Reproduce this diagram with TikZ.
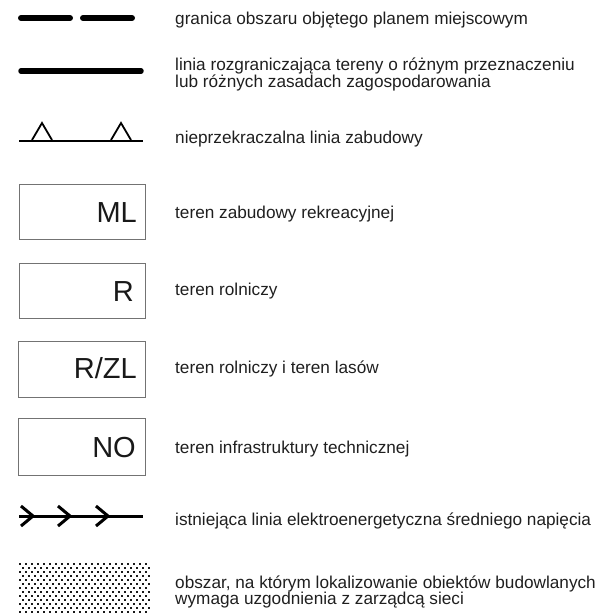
\documentclass[tikz,border=0pt]{standalone}
\usepackage{fontspec}
\setmainfont{Liberation Sans}
\begin{document}
\begin{tikzpicture}[x=1pt,y=-1pt,
  lbl/.style={anchor=base west,inner sep=0pt,font=\fontsize{17.2}{19}\selectfont,text=black!88},
  code/.style={anchor=base east,inner sep=0pt,font=\fontsize{29}{32}\selectfont,text=black!90},
  keybox/.style={draw=black!55,line width=1pt},
  thickline/.style={line width=6pt,line cap=round},
  dot/.style={fill=black!90}]
\useasboundingbox (0,0) rectangle (601,614);
% 1 dashed boundary
\coordinate (d1a) at (21,18); \coordinate (d1b) at (70,18);
\coordinate (d2a) at (83,18); \coordinate (d2b) at (132,18);
\draw[thickline] (d1a) -- (d1b);
\draw[thickline] (d2a) -- (d2b);
\node[lbl] (t1) at (175,24) {granica obszaru objętego planem miejscowym};
% 2 solid line
\coordinate (s1) at (21,71); \coordinate (s2) at (141,71);
\draw[thickline,line width=5.5pt] (s1) -- (s2);
\node[lbl] (t2a) at (175,70) {linia rozgraniczająca tereny o różnym przeznaczeniu};
\node[lbl] (t2b) at (175,87) {lub różnych zasadach zagospodarowania};
% 3 building line
\coordinate (b1) at (19,141); \coordinate (b2) at (143,141);
\draw[line width=2pt] (b1) -- (b2);
\draw[line width=1.8pt,line join=miter] (32,140) -- (42,123) -- (52,140);
\draw[line width=1.8pt,line join=miter] (111,140) -- (121,123) -- (131,140);
\node[lbl] (t3) at (175,143) {nieprzekraczalna linia zabudowy};
% boxes
\draw[keybox] (19,184) rectangle (145,239);
\node[code] (c1) at (137,222) {ML};
\node[lbl] (t4) at (175,218) {teren zabudowy rekreacyjnej};
\draw[keybox] (19,263) rectangle (145,318);
\node[code] (c2) at (134,301) {R};
\node[lbl] (t5) at (175,295) {teren rolniczy};
\draw[keybox] (18,341) rectangle (145,397);
\node[code] (c3) at (137,378) {R/ZL};
\node[lbl] (t6) at (175,373) {teren rolniczy i teren lasów};
\draw[keybox] (18,418) rectangle (145,475);
\node[code] (c4) at (136,457) {NO};
\node[lbl] (t7) at (175,453) {teren infrastruktury technicznej};
% power line
\coordinate (p1) at (19,516); \coordinate (p2) at (143,516);
\draw[line width=3pt] (p1) -- (p2);
\foreach \x in {33,70,108}{
  \draw[line width=3pt,line join=miter] (\x-12,506) -- (\x,516) -- (\x-12,526);
}
\node[lbl] (t8) at (175,525) {istniejąca linia elektroenergetyczna średniego napięcia};
% dotted area
\foreach \r in {0,...,12}{
  \pgfmathsetmacro{\yy}{563+4*\r}
  \pgfmathsetmacro{\off}{mod(\r,2)*3}
  \foreach \c in {0,...,21}{
    \fill[dot] (19+\off+6*\c,\yy) rectangle ++(2.4,2.4);
  }
}
\node[lbl] (t9a) at (175,588) {obszar, na którym lokalizowanie obiektów budowlanych};
\node[lbl] (t9b) at (175,604) {wymaga uzgodnienia z zarządcą sieci};
\end{tikzpicture}
\end{document}
